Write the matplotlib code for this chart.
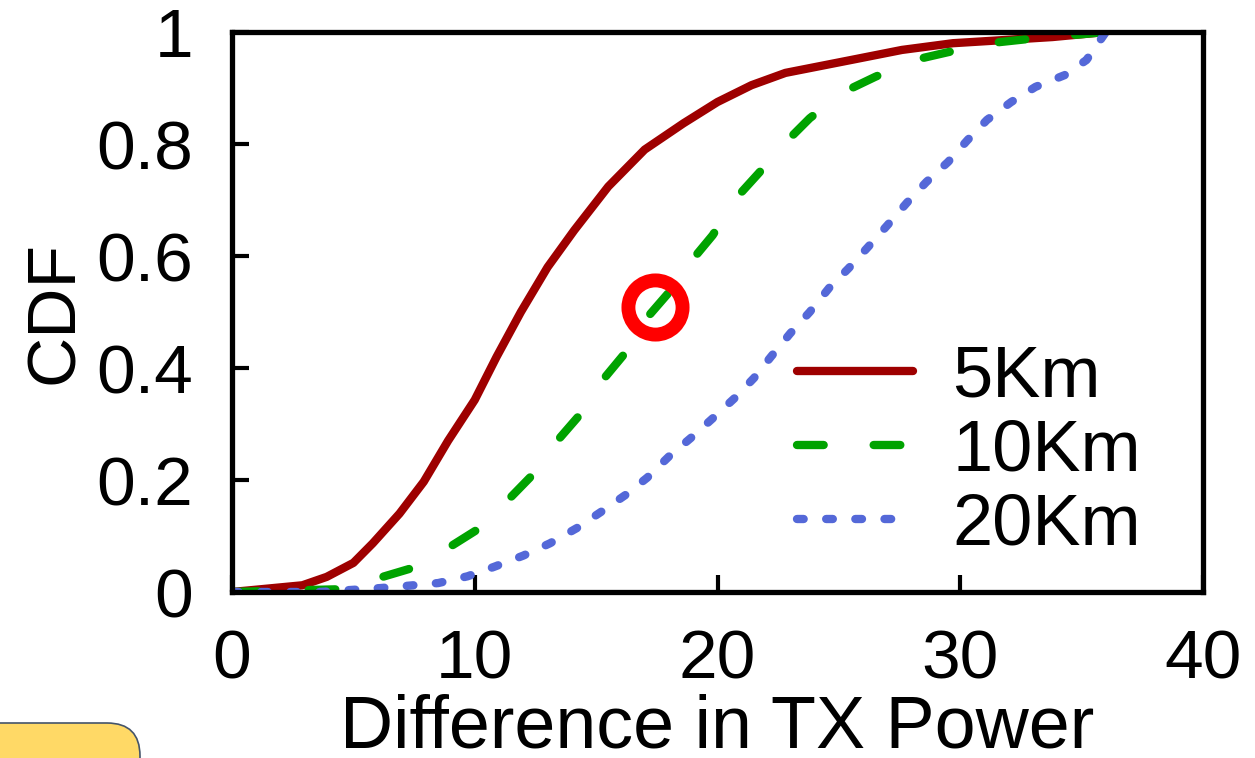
import matplotlib
matplotlib.use("Agg")
import matplotlib.pyplot as plt
from matplotlib.patches import FancyBboxPatch
from matplotlib.transforms import IdentityTransform

plt.rcParams["font.family"] = ["Liberation Sans", "DejaVu Sans"]

# CDF curves
red_x = [0, 2.9, 3.9, 5.0, 5.8, 6.9, 7.9, 8.9, 10.0, 10.9, 11.9, 13.0, 14.1, 15.5,
         17.0, 18.6, 20.0, 21.4, 22.8, 25.5, 27.6, 29.7, 33.8, 36.0]
red_y = [0, 0.012, 0.027, 0.052, 0.087, 0.14, 0.197, 0.27, 0.343, 0.42, 0.50, 0.58,
         0.646, 0.724, 0.79, 0.837, 0.875, 0.905, 0.927, 0.95, 0.968, 0.98, 0.991, 1.0]

green_x = [0, 4.5, 6.2, 7.6, 9.1, 10.2, 11.5, 12.4, 13.4, 14.4, 15.3, 16.2, 17.1, 18.0,
           18.9, 19.8, 20.8, 21.7, 22.9, 23.8, 25.2, 26.5, 28.1, 29.5, 31.2, 32.7, 36.0]
green_y = [0, 0.005, 0.027, 0.045, 0.084, 0.114, 0.17, 0.21, 0.27, 0.32, 0.38, 0.427,
           0.49, 0.535, 0.59, 0.637, 0.705, 0.748, 0.807, 0.846, 0.893, 0.92, 0.95,
           0.964, 0.98, 0.987, 1.0]

blue_x = [0, 3.6, 6.1, 7.2, 8.5, 9.7, 10.8, 12.0, 13.1, 14.2, 15.2, 16.2, 17.1, 18.0,
          18.9, 19.8, 20.7, 21.5, 22.2, 23.0, 23.8, 24.6, 25.4, 26.2, 27.0, 27.8, 28.6,
          29.5, 30.3, 31.1, 32.1, 33.1, 34.3, 35.2, 36.0]
blue_y = [0, 0.0, 0.007, 0.011, 0.016, 0.028, 0.045, 0.065, 0.087, 0.114, 0.143, 0.173,
          0.204, 0.242, 0.275, 0.31, 0.346, 0.382, 0.42, 0.462, 0.50, 0.543, 0.578,
          0.616, 0.655, 0.695, 0.732, 0.768, 0.807, 0.843, 0.875, 0.902, 0.923, 0.95, 1.0]

labels = ["5Km", "10Km", "20Km"]
highlight = (17.44, 0.509)

x_ticks = [0, 10, 20, 30, 40]
x_ticklabels = ["0", "10", "20", "30", "40"]
y_ticks = [0, 0.2, 0.4, 0.6, 0.8, 1.0]
y_ticklabels = ["0", "0.2", "0.4", "0.6", "0.8", "1"]

fig = plt.figure(figsize=(12.55, 7.58), dpi=100)
ax = fig.add_axes([232 / 1255, 166 / 758, 971 / 1255, 560 / 758])

lw = 6.0
ax.plot(red_x, red_y, color="#9e0000", lw=lw, solid_capstyle="round", label=labels[0])
ax.plot(green_x, green_y, color="#00a300", lw=lw, linestyle=(0, (3.2, 6.0)),
        dash_capstyle="round", label=labels[1])
ax.plot(blue_x, blue_y, color="#5468d8", lw=lw, linestyle=(0, (0.8, 2.7)),
        dash_capstyle="round", label=labels[2])

ax.plot([highlight[0]], [highlight[1]], marker="o", ms=39, mfc="none", mec="#ff0000",
        mew=10, clip_on=False, zorder=5)

ax.set_xlim(0, 40)
ax.set_ylim(0, 1)
ax.set_xticks(x_ticks)
ax.set_xticklabels(x_ticklabels)
ax.set_yticks(y_ticks)
ax.set_yticklabels(y_ticklabels)
ax.tick_params(direction="in", length=12, width=3, labelsize=50)
ax.tick_params(axis="y", pad=28)
ax.tick_params(axis="x", pad=26)
for sp in ax.spines.values():
    sp.set_linewidth(3.8)

ax.set_xlabel("Difference in TX Power", fontsize=53, labelpad=1)
ax.set_ylabel("CDF", fontsize=50, labelpad=7)

ax.legend(loc="upper left", bbox_to_anchor=(0.545, 0.507), frameon=False, fontsize=52,
          handlelength=1.6, handletextpad=0.55, labelspacing=0.1, borderpad=0)

box = FancyBboxPatch((-60, -60), 200, 95, boxstyle="round,pad=0,rounding_size=33",
                     transform=IdentityTransform(), facecolor="#ffd966",
                     edgecolor="#44546a", lw=1.2, clip_on=False)
fig.add_artist(box)

fig.savefig("out.png", dpi=100)
